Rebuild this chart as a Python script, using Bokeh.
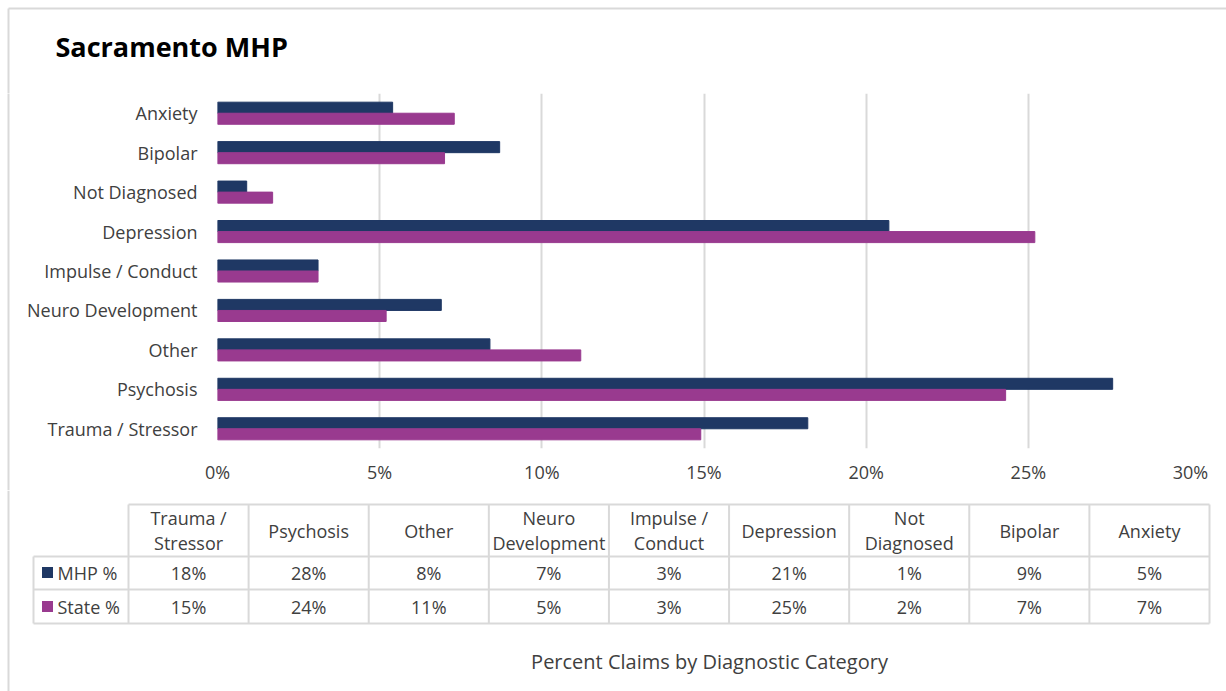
from bokeh.plotting import figure
from bokeh.layouts import column, row
from bokeh.models import Range1d, FactorRange, FixedTicker, PrintfTickFormatter, ColumnDataSource
from bokeh.transform import dodge
from bokeh.core.properties import value
from bokeh.embed import file_html
from bokeh.resources import INLINE

# ---------------- data ----------------
categories = ["Trauma / Stressor", "Psychosis", "Other", "Neuro Development",
              "Impulse / Conduct", "Depression", "Not Diagnosed", "Bipolar", "Anxiety"]
mhp_pct = [18.2, 27.6, 8.4, 6.9, 3.1, 20.7, 0.9, 8.7, 5.4]
state_pct = [14.9, 24.3, 11.2, 5.2, 3.1, 25.2, 1.7, 7.0, 7.3]
x_ticks = [0, 5, 10, 15, 20, 25, 30]
series_names = ["MHP %", "State %"]
title_text = "Sacramento MHP"
axis_title = "Percent Claims by Diagnostic Category"

# ---------------- style ----------------
FONT = value("Open Sans")
MHP_COLOR = "#1F3864"
STATE_COLOR = "#993A8F"
GRID = "#d9d9d9"
TXT = "#404040"
W, H = 1226, 691


def blank(width, height, x0, x1, y0, y1, **kw):
    args = dict(min_border=0)
    args.update(kw)
    f = figure(width=width, height=height, x_range=Range1d(x0, x1), y_range=Range1d(y0, y1),
               x_axis_location=None, y_axis_location=None, toolbar_location=None,
               output_backend="svg", outline_line_color=None, **args)
    f.grid.visible = False
    return f


# ---------------- header (title + outer frame) ----------------
hdr = blank(W, 93, 0, W, 93, 0)
hdr.segment(x0=[8, 8], y0=[8, 8], x1=[W, 8], y1=[8, 93], line_color=GRID, line_width=2)
hdr.text(x=[55], y=[45.5], text=[title_text], text_font=FONT, text_font_size="27px",
         text_font_style="bold", text_color="#000000", text_baseline="middle")

# ---------------- left strip (outer frame) ----------------
strip = blank(16, 397, 0, 16, 448, 93, min_border_top=0, min_border_bottom=42,
              min_border_left=0, min_border_right=0)
strip.segment(x0=[8], y0=[93], x1=[8], y1=[490], line_color=GRID, line_width=2, level="overlay")

# ---------------- chart ----------------
src = ColumnDataSource(dict(cat=categories, mhp=mhp_pct, state=state_pct))
p = figure(width=1210, height=397, y_range=FactorRange(*categories), x_range=Range1d(0, 30),
           toolbar_location=None, output_backend="svg",
           min_border_left=201, min_border_right=36, min_border_top=0, min_border_bottom=42,
           outline_line_color=None)
p.hbar(y=dodge("cat", 0.14, range=p.y_range), left=0, right="mhp", height=0.28,
       source=src, fill_color=MHP_COLOR, line_color=MHP_COLOR)
p.hbar(y=dodge("cat", -0.14, range=p.y_range), left=0, right="state", height=0.28,
       source=src, fill_color=STATE_COLOR, line_color=STATE_COLOR)

p.xaxis.ticker = FixedTicker(ticks=x_ticks)
p.xaxis.formatter = PrintfTickFormatter(format="%d%%")
for ax in (p.xaxis, p.yaxis):
    ax.axis_line_color = None
    ax.major_tick_line_color = None
    ax.minor_tick_line_color = None
    ax.major_tick_out = 0
    ax.major_tick_in = 0
    ax.major_label_text_font = "Open Sans"
    ax.major_label_text_font_size = "18px"
    ax.major_label_text_color = TXT
p.yaxis.major_label_standoff = 20
p.xaxis.major_label_standoff = 11
p.xgrid.grid_line_color = GRID
p.xgrid.grid_line_width = 2
p.ygrid.grid_line_color = None

# ---------------- table ----------------
tb = blank(W, 201, 0, W, 691, 490)
tb.segment(x0=[8], y0=[490], x1=[8], y1=[691], line_color=GRID, line_width=2)

n = len(categories)
c_left, c_right = 128, 1209
cw = (c_right - c_left) / n
vx = [c_left + i * cw for i in range(n + 1)]
tb.segment(x0=vx, y0=[504] * len(vx), x1=vx, y1=[623] * len(vx), line_color=GRID, line_width=2)
tb.segment(x0=[33], y0=[556], x1=[33], y1=[623], line_color=GRID, line_width=2)
tb.segment(x0=[c_left, 33, 33, 33], y0=[504, 556, 589, 623], x1=[c_right] * 4,
           y1=[504, 556, 589, 623], line_color=GRID, line_width=2)

centers = [c_left + (i + 0.5) * cw for i in range(n)]
one_x, one_t, two_x, two_a, two_b = [], [], [], [], []
for cx, name in zip(centers, categories):
    if " " in name:
        a, b = name.rsplit(" ", 1)
        two_x.append(cx); two_a.append(a); two_b.append(b)
    else:
        one_x.append(cx); one_t.append(name)

tkw = dict(text_font=FONT, text_font_size="18px", text_color=TXT,
           text_align="center", text_baseline="middle")
tb.text(x=one_x, y=[530] * len(one_x), text=one_t, **tkw)
tb.text(x=two_x, y=[517] * len(two_x), text=two_a, **tkw)
tb.text(x=two_x, y=[542.5] * len(two_x), text=two_b, **tkw)
tb.text(x=centers, y=[572] * n, text=[f"{round(v)}%" for v in mhp_pct], **tkw)
tb.text(x=centers, y=[606] * n, text=[f"{round(v)}%" for v in state_pct], **tkw)

tb.scatter(x=[47, 47], y=[572, 606], marker="square", size=11,
           fill_color=[MHP_COLOR, STATE_COLOR], line_color=None)
tb.text(x=[57, 57], y=[572, 606], text=series_names, text_font=FONT, text_font_size="18px",
        text_color=TXT, text_align="left", text_baseline="middle")

tb.text(x=[709], y=[660.5], text=[axis_title], text_font=FONT, text_font_size="20px",
        text_color=TXT, text_align="center", text_baseline="middle")

layout = column(hdr, row(strip, p), tb)
open("out.html", "w").write(file_html(layout, INLINE))
